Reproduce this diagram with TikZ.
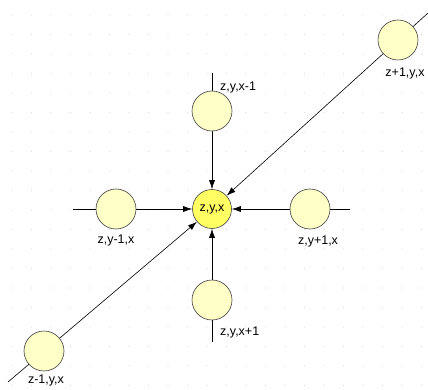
\documentclass[tikz,border=0pt]{standalone}
\usepackage{fontspec}
\setmainfont{Liberation Sans}
\usetikzlibrary{arrows.meta}
\usetikzlibrary{backgrounds}
\definecolor{cellpale}{RGB}{255,255,200}
\definecolor{cellyellow}{RGB}{255,255,100}

\begin{document}
\begin{tikzpicture}
	[
	x=1pt, y=-1pt,
	> = {Latex[length=9pt,width=6pt]},
	every node/.style = {font=\fontsize{12.5}{14}\selectfont},
	cell/.style = {draw=black!75, fill=cellpale, circle, minimum size=40pt, inner sep=0pt, line width=0.6pt},
	centre/.style = {cell, fill=cellyellow, minimum size=39pt},
	lbl/.style = {inner sep=0pt},
	link/.style = {->, line width=0.6pt}
	]
	\useasboundingbox (0,0) rectangle (428,390);

	\node[centre] (c) at (212,209) {z,y,x};
	\node[cell] (up) at (212,111) {};
	\node[cell] (dn) at (212,300) {};
	\node[cell] (lt) at (116,209) {};
	\node[cell] (rt) at (310,209) {};
	\node[cell] (zp) at (398,40) {};
	\node[cell] (zm) at (44,351) {};

	\coordinate (upend) at (212,73);
	\coordinate (dnend) at (212,342);
	\coordinate (ltend) at (73,209);
	\coordinate (rtend) at (350,209);
	\coordinate (zpend) at (428,13);
	\coordinate (zmend) at (8,382);

	\node[lbl, anchor=west] (upl) at (220,87) {z,y,x-1};
	\node[lbl, anchor=west] (dnl) at (220,332) {z,y,x+1};
	\node[lbl] (ltl) at (116,240) {z,y-1,x};
	\node[lbl] (rtl) at (318,241) {z,y+1,x};
	\node[lbl] (zpl) at (405,73) {z+1,y,x};
	\node[lbl] (zml) at (46,380) {z-1,y,x};

	\begin{scope}[on background layer]
		% dotted grid
		\foreach \gx in {12,31.5,...,428}
			\foreach \gy in {15,34.5,...,390}
				\fill[black!15] (\gx,\gy) circle (0.7);
		\draw[link] (upend) -- (c);
		\draw[link] (dnend) -- (c);
		\draw[link] (ltend) -- (c);
		\draw[link] (rtend) -- (c);
		\draw[link] (zpend) -- (c);
		\draw[link] (zmend) -- (c);
	\end{scope}
\end{tikzpicture}
\end{document}
